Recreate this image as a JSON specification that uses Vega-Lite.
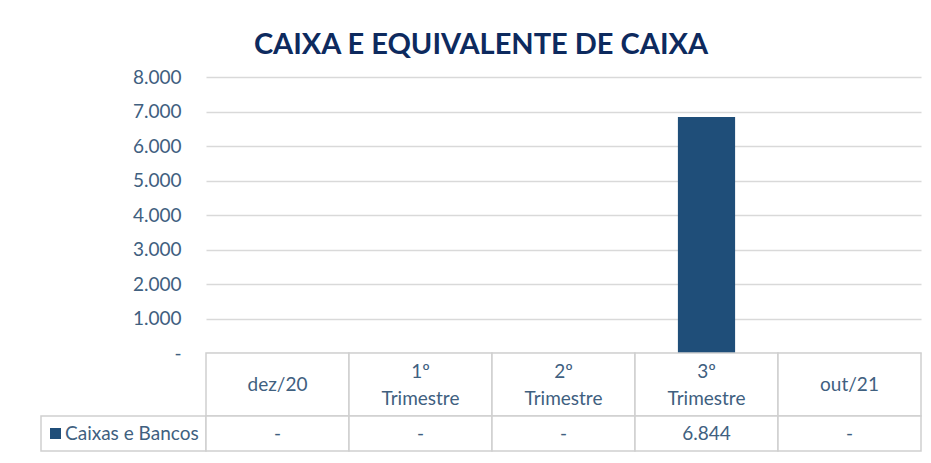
{
  "$schema": "https://vega.github.io/schema/vega-lite/v6.json",
  "padding": {"left": 40, "top": 31, "right": 11, "bottom": 5},
  "title": {"text": "CAIXA E EQUIVALENTE DE CAIXA", "fontSize": 29, "fontWeight": "bold", "color": "#0d2a5e", "font": "Lato", "anchor": "middle", "offset": 8},
  "datasets": {
    "caixa": [
      {"periodo": "dez/20", "cabecalho": "dez/20", "serie": "Caixas e Bancos", "valor": 0},
      {"periodo": "1º Trimestre", "cabecalho": "1º\nTrimestre", "serie": "Caixas e Bancos", "valor": 0},
      {"periodo": "2º Trimestre", "cabecalho": "2º\nTrimestre", "serie": "Caixas e Bancos", "valor": 0},
      {"periodo": "3º Trimestre", "cabecalho": "3º\nTrimestre", "serie": "Caixas e Bancos", "valor": 6844},
      {"periodo": "out/21", "cabecalho": "out/21", "serie": "Caixas e Bancos", "valor": 0}
    ],
    "rotulo": [{"serie": "Caixas e Bancos"}]
  },
  "columns": 2,
  "spacing": 0,
  "bounds": "flush",
  "align": "each",
  "concat": [
    {"width": 165, "height": 276, "data": {"name": "rotulo"}, "mark": {"type": "rect", "opacity": 0}, "encoding": {}},
    {
      "width": 715, "height": 276,
      "data": {"name": "caixa"},
      "mark": {"type": "bar", "width": {"band": 0.4}},
      "encoding": {
        "x": {"field": "periodo", "type": "nominal", "sort": null, "scale": {"paddingInner": 0, "paddingOuter": 0}, "axis": null},
        "y": {"field": "valor", "type": "quantitative", "scale": {"domain": [0, 8000], "nice": false},
          "axis": {"title": null, "values": [0, 1000, 2000, 3000, 4000, 5000, 6000, 7000, 8000], "format": ",.0f", "labelExpr": "datum.value == 0 ? '-\u00a0\u00a0\u00a0' : datum.label", "domain": false, "ticks": false, "gridColor": "#d9d9d9", "gridWidth": 1.5, "labelPadding": 25}},
        "color": {"field": "serie", "type": "nominal", "scale": {"range": ["#1f4e79"]},
          "legend": {"orient": "none", "legendX": 5, "legendY": 347, "padding": 0, "title": null, "symbolType": "square", "symbolSize": 121, "symbolStrokeWidth": 0, "labelFontSize": 19, "labelColor": "#40607f", "labelFont": "Lato", "labelOffset": 0}}
      }
    },
    {"width": 165, "height": 63, "data": {"name": "rotulo"}, "mark": {"type": "rect", "opacity": 0}, "encoding": {}},
    {
      "width": 715, "height": 63,
      "data": {"name": "caixa"},
      "encoding": {"x": {"field": "periodo", "type": "nominal", "sort": null, "scale": {"paddingInner": 0, "paddingOuter": 0}, "axis": null}},
      "layer": [
        {"mark": {"type": "rect", "fill": "white", "stroke": "#d0d0d0", "strokeWidth": 1.5}},
        {"transform": [{"filter": "indexof(datum.cabecalho, '\\n') < 0"}],
          "mark": {"type": "text", "fontSize": 19, "color": "#40607f", "baseline": "middle"}, "encoding": {"text": {"field": "cabecalho"}}},
        {"transform": [{"filter": "indexof(datum.cabecalho, '\\n') >= 0"}],
          "mark": {"type": "text", "lineBreak": "\n", "lineHeight": 27, "fontSize": 19, "color": "#40607f", "baseline": "middle", "dy": -13}, "encoding": {"text": {"field": "cabecalho"}}}
      ]
    },
    {"width": 165, "height": 35, "data": {"name": "rotulo"}, "mark": {"type": "rect", "fill": "white", "stroke": "#d0d0d0", "strokeWidth": 1.5}, "encoding": {}},
    {
      "width": 715, "height": 35,
      "data": {"name": "caixa"},
      "encoding": {"x": {"field": "periodo", "type": "nominal", "sort": null, "scale": {"paddingInner": 0, "paddingOuter": 0}, "axis": null}},
      "layer": [
        {"mark": {"type": "rect", "fill": "white", "stroke": "#d0d0d0", "strokeWidth": 1.5}},
        {"mark": {"type": "text", "fontSize": 19, "color": "#40607f", "baseline": "middle"},
          "encoding": {"text": {"condition": {"test": "datum.valor == 0", "value": "-"}, "field": "valor", "type": "quantitative", "format": ",.0f"}}}
      ]
    }
  ],
  "config": {
    "font": "Lato",
    "view": {"stroke": null},
    "axis": {"labelFontSize": 19, "labelColor": "#40607f", "labelFont": "Lato"},
    "text": {"font": "Lato"},
    "locale": {"number": {"decimal": ",", "thousands": ".", "grouping": [3], "currency": ["R$", ""]}}
  }
}
